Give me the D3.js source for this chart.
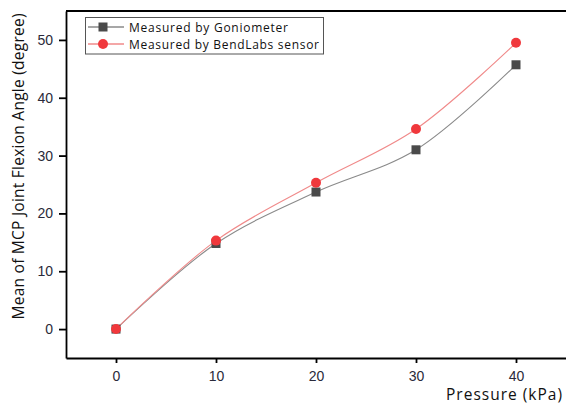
<!DOCTYPE html>
<html lang="en">
<head>
<meta charset="utf-8">
<title>MCP joint flexion</title>
<script src="https://d3js.org/d3.v7.min.js"></script>
<style>
  body { margin:0; background:#fff; }
  svg { display:block; font-family:"Open Sans", sans-serif; }
</style>
</head>
<body>
<svg width="566" height="404"></svg>
<script>
var pressure = [0, 10, 20, 30, 40];
var goniometer = [0, 14.8, 23.7, 31.0, 45.7];
var bendlabs = [0, 15.3, 25.3, 34.6, 49.5];
var xTicks = [0, 10, 20, 30, 40];
var yTicks = [0, 10, 20, 30, 40, 50];

var svg = d3.select("svg");
var plotL = 66, plotR = 566, plotT = 11, plotB = 358;

var x = d3.scaleLinear().domain([-5, 45]).range([plotL, plotR]);
var y = d3.scaleLinear().domain([-5, 55]).range([plotB, plotT]);

// frame: top line
svg.append("line")
    .attr("x1", plotL).attr("x2", plotR)
    .attr("y1", plotT).attr("y2", plotT)
    .attr("stroke", "#000").attr("stroke-width", 1.8);

// minor + major ticks
var gx = svg.append("g").attr("transform", "translate(0," + plotB + ")");
gx.call(d3.axisBottom(x).tickValues(d3.range(-5, 46, 5)).tickSize(3).tickSizeOuter(0).tickFormat(""))
gx.call(d3.axisBottom(x).tickValues(xTicks).tickSize(5).tickSizeOuter(0).tickPadding(8));
gx.selectAll("path, line").attr("stroke", "#000").attr("stroke-width", 1.8);
gx.selectAll("text").attr("font-size", 14).attr("fill", "#2a2a3a");

var gy = svg.append("g").attr("transform", "translate(" + plotL + ",0)");
gy.call(d3.axisLeft(y).tickValues(d3.range(-5, 56, 5)).tickSize(4).tickSizeOuter(0).tickFormat(""));
gy.call(d3.axisLeft(y).tickValues(yTicks).tickSize(7).tickSizeOuter(0).tickPadding(6));
gy.selectAll("path, line").attr("stroke", "#000").attr("stroke-width", 1.8);
gy.selectAll("text").attr("font-size", 14).attr("fill", "#2a2a3a");

// axis titles
svg.append("text")
    .attr("x", 446).attr("y", 400)
    .attr("textLength", 116)
    .attr("font-size", 15.5).attr("fill", "#111")
    .text("Pressure (kPa)");

svg.append("text")
    .attr("transform", "translate(24,166.5) rotate(-90)")
    .attr("text-anchor", "middle")
    .attr("textLength", 306)
    .attr("font-size", 15.5).attr("fill", "#111")
    .text("Mean of MCP Joint Flexion Angle (degree)");

var series = [
  {name: "Measured by Goniometer", values: goniometer, line: "#8a8a8a", mark: "#4a4a4a", shape: "square", len: 159},
  {name: "Measured by  BendLabs sensor", values: bendlabs, line: "#f08a8a", mark: "#f0383c", shape: "circle", len: 190}
];

var line = d3.line()
    .x(function(d) { return x(d[0]); })
    .y(function(d) { return y(d[1]); })
    .curve(d3.curveCatmullRom.alpha(0.5));

series.forEach(function(s) {
  var pts = pressure.map(function(p, i) { return [p, s.values[i]]; });
  svg.append("path")
      .attr("d", line(pts))
      .attr("fill", "none")
      .attr("stroke", s.line)
      .attr("stroke-width", 1.1);
});

function drawMark(g, s, cx, cy) {
  if (s.shape === "square") {
    g.append("rect").attr("x", cx - 4.5).attr("y", cy - 4.5)
        .attr("width", 9).attr("height", 9).attr("fill", s.mark);
  } else {
    g.append("circle").attr("cx", cx).attr("cy", cy).attr("r", 5).attr("fill", s.mark);
  }
}

series.forEach(function(s) {
  var g = svg.append("g");
  pressure.forEach(function(p, i) { drawMark(g, s, x(p), y(s.values[i])); });
});

// legend
var lg = svg.append("g");
lg.append("rect")
    .attr("x", 85.5).attr("y", 17.5).attr("width", 238).attr("height", 36.5)
    .attr("fill", "#fff").attr("stroke", "#555").attr("stroke-width", 1);
series.forEach(function(s, i) {
  var cy = 27 + i * 17;
  lg.append("line").attr("x1", 88).attr("x2", 124).attr("y1", cy).attr("y2", cy)
      .attr("stroke", s.line).attr("stroke-width", 1.3);
  drawMark(lg, s, 103, cy);
  lg.append("text").attr("x", 129).attr("y", cy + 4.5)
      .attr("textLength", s.len)
      .attr("font-size", 12).attr("fill", "#111")
      .text(s.name);
});
</script>
</body>
</html>
